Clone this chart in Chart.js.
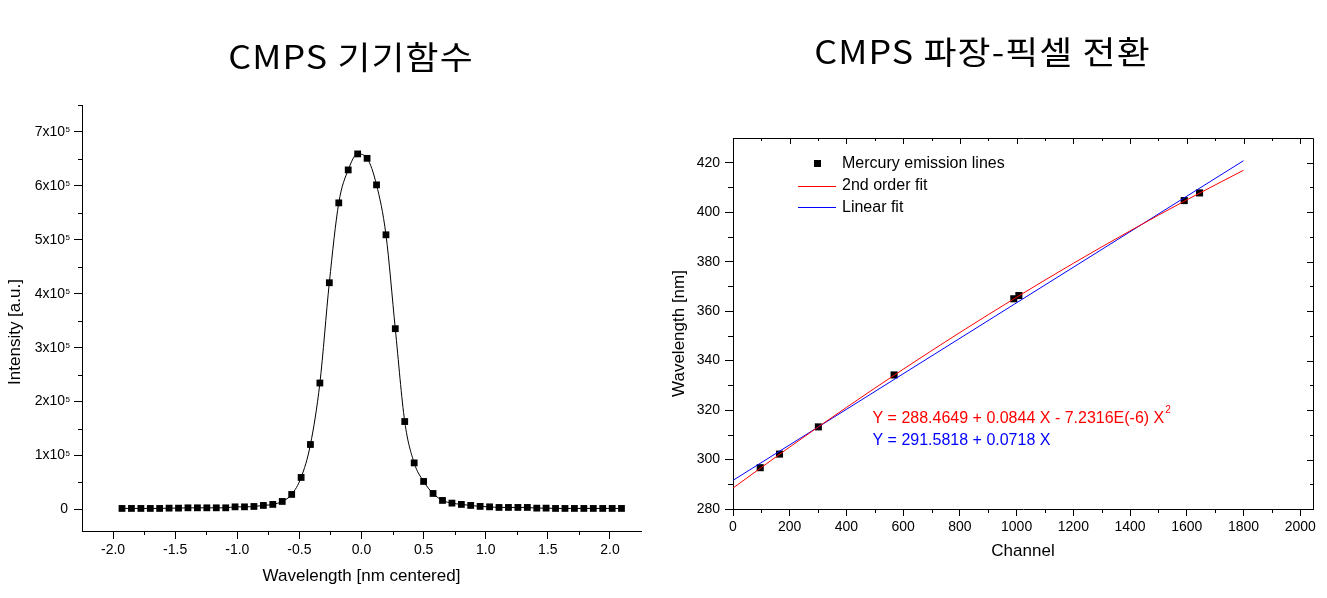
<!DOCTYPE html>
<html>
<head>
<meta charset="utf-8">
<script src="https://cdn.jsdelivr.net/npm/chart.js@4.4.1/dist/chart.umd.min.js"></script>
<style>
  html, body { margin: 0; padding: 0; background: #fff; overflow: hidden; }
  #page { position: relative; width: 1327px; height: 598px; }
  canvas { position: absolute; top: 0; }
  #profile { left: 0; }
  #calib { left: 663px; }
  .title { position: absolute; font-family: "Noto Sans CJK KR", sans-serif; font-size: 32px;
           line-height: 32px; letter-spacing: 1px; white-space: nowrap; color: #000;
           text-align: center; transform: scaleX(1.12); transform-origin: center; }
</style>
</head>
<body>
<div id="page">
  <canvas id="profile" width="663" height="598"></canvas>
  <canvas id="calib" width="664" height="598"></canvas>
  <div class="title" style="left:0;width:702px;top:38.5px">CMPS 기기함수</div>
  <div class="title" style="left:663px;width:639px;top:33.5px">CMPS 파장-픽셀 전환</div>
</div>
<script>
/* Data : instrument function */
var profileX = [-1.928, -1.852, -1.776, -1.700, -1.625, -1.549, -1.473, -1.397, -1.321, -1.245,
                -1.169, -1.093, -1.018, -0.942, -0.866, -0.790, -0.714, -0.638, -0.562, -0.486,
                -0.411, -0.335, -0.259, -0.183, -0.107, -0.031, 0.045, 0.121, 0.197, 0.272,
                0.348, 0.424, 0.500, 0.576, 0.652, 0.728, 0.804, 0.879, 0.955, 1.031,
                1.107, 1.183, 1.259, 1.335, 1.411, 1.486, 1.562, 1.638, 1.714, 1.790,
                1.866, 1.942, 2.018, 2.093];
var profileY = [1850, 1850, 1850, 1850, 1850, 2400, 2400, 3000, 3000, 3000,
                3000, 3000, 4800, 4800, 5500, 7400, 9300, 14800, 27800, 59300,
                120400, 234400, 420400, 568500, 629600, 659300, 651100, 601900, 509300, 335200,
                163000, 86300, 51900, 29600, 16700, 11700, 9300, 7400, 5600, 4800,
                3700, 3700, 3700, 3700, 2400, 2400, 1850, 1850, 1850, 1850,
                1850, 1850, 1850, 1850];
var profileXTicks = [-2.0, -1.5, -1.0, -0.5, 0.0, 0.5, 1.0, 1.5, 2.0];
var profileXMinor = [-1.75, -1.25, -0.75, -0.25, 0.25, 0.75, 1.25, 1.75];
var profileYTicks = [0, 100000, 200000, 300000, 400000, 500000, 600000, 700000];
var profileYMinor = [50000, 150000, 250000, 350000, 450000, 550000, 650000, 750000];

/* Data : wavelength - pixel calibration */
var hgChannel = [96, 164, 301, 568, 990, 1008, 1591, 1645];
var hgWavelength = [296.7, 302.2, 313.2, 334.2, 365.0, 366.3, 404.7, 407.8];
var quadChannel = [0, 200, 400, 600, 800, 1000, 1200, 1400, 1600, 1800];
var quadWavelength = [288.46, 305.06, 321.07, 336.50, 351.36, 365.63, 379.33, 392.45, 404.99, 416.95];
var linChannel = [0, 1800];
var linWavelength = [291.58, 420.82];
var calibXTicks = [0, 200, 400, 600, 800, 1000, 1200, 1400, 1600, 1800, 2000];
var calibXMinor = [100, 300, 500, 700, 900, 1100, 1300, 1500, 1700, 1900];
var calibYTicks = [280, 300, 320, 340, 360, 380, 400, 420];
var calibYMinor = [290, 310, 330, 350, 370, 390, 410];
var legendLabels = ['Mercury emission lines', '2nd order fit', 'Linear fit'];
var quadText = 'Y = 288.4649 + 0.0844 X - 7.2316E(-6) X';
var linText = 'Y = 291.5818 + 0.0718 X';

var FONT = 'Arial, "Liberation Sans", sans-serif';

function points(xs, ys) {
	return xs.map(function(x, i) { return { x: x, y: ys[i] }; });
}

function setTicks(values) {
	return function(scale) {
		scale.ticks = values.map(function(v) { return { value: v }; });
	};
}

function drawTicks(chart, axis, values, len, side) {
	var ctx = chart.ctx, a = chart.chartArea, s = chart.scales[axis];
	ctx.save();
	ctx.strokeStyle = '#000';
	ctx.lineWidth = 1;
	ctx.beginPath();
	values.forEach(function(v) {
		var p = Math.round(s.getPixelForValue(v)) + 0.5;
		if (side === 'bottom') { ctx.moveTo(p, a.bottom); ctx.lineTo(p, a.bottom + len); }
		if (side === 'top') { ctx.moveTo(p, a.top); ctx.lineTo(p, a.top + len); }
		if (side === 'left') { ctx.moveTo(a.left, p); ctx.lineTo(a.left - len, p); }
		if (side === 'right') { ctx.moveTo(a.right, p); ctx.lineTo(a.right - len, p); }
	});
	ctx.stroke();
	ctx.restore();
}

function drawYTitle(ctx, text, x, y) {
	ctx.save();
	ctx.translate(x, y);
	ctx.rotate(-Math.PI / 2);
	ctx.font = '17px ' + FONT;
	ctx.fillStyle = '#000';
	ctx.textAlign = 'center';
	ctx.textBaseline = 'middle';
	ctx.fillText(text, 0, 0);
	ctx.restore();
}

function axisScale(min, max, ticks, tickLength, padding, fitSize, horizontal, title, titlePad) {
	var opts = {
		type: 'linear',
		min: min,
		max: max,
		afterBuildTicks: setTicks(ticks),
		grid: { drawOnChartArea: false, drawTicks: true, tickLength: tickLength, color: '#000' },
		border: { display: true, color: '#000', width: 1 },
		ticks: { color: '#000', padding: padding, maxRotation: 0, font: { family: FONT, size: 14 } },
		afterFit: function(scale) {
			if (horizontal) { scale.height = fitSize; } else { scale.width = fitSize; }
		}
	};
	if (title) {
		opts.title = { display: true, text: title, color: '#000', font: { family: FONT, size: 17 },
			padding: { top: 0, bottom: titlePad } };
	}
	return opts;
}

/* Instrument function */

var profileDecor = {
	id: 'profileDecor',
	afterDraw: function(chart) {
		var ctx = chart.ctx, a = chart.chartArea, s = chart.scales.y;
		drawTicks(chart, 'x', profileXMinor, 4, 'bottom');
		drawTicks(chart, 'y', profileYMinor, 4, 'left');
		ctx.save();
		ctx.fillStyle = '#000';
		profileYTicks.forEach(function(v) {
			var py = s.getPixelForValue(v);
			var xr = a.left - 12;
			if (v === 0) {
				ctx.font = '14px ' + FONT;
				ctx.textAlign = 'right';
				ctx.textBaseline = 'middle';
				ctx.fillText('0', xr - 2, py);
			} else {
				ctx.font = '8px ' + FONT;
				ctx.textAlign = 'right';
				ctx.textBaseline = 'alphabetic';
				ctx.fillText('5', xr, py + 0.5);
				var w = ctx.measureText('5').width;
				ctx.font = '14px ' + FONT;
				ctx.textBaseline = 'middle';
				ctx.fillText((v / 100000) + 'x10', xr - w - 0.5, py);
			}
		});
		ctx.restore();
		drawYTitle(ctx, 'Intensity [a.u.]', 15, 332);
	}
};

var profileOpts = {
	responsive: false,
	animation: false,
	layout: { padding: { left: 0, top: 105, right: 22, bottom: 0 } },
	plugins: { legend: { display: false }, tooltip: { enabled: false } },
	scales: {
		x: axisScale(-2.25, 2.25, profileXTicks, 8, 3, 67, true, 'Wavelength [nm centered]', 11),
		y: axisScale(-40000, 750000, profileYTicks, 8, 3, 82, false)
	}
};
profileOpts.scales.x.ticks.callback = function(v) { return v.toFixed(1); };
profileOpts.scales.y.ticks.display = false;

var ctxprofile = document.getElementById('profile').getContext('2d');
var profileChart = new Chart(ctxprofile, {
	type: 'scatter',
	data: {
		datasets: [{
			data: points(profileX, profileY),
			showLine: true,
			borderColor: '#000',
			borderWidth: 1,
			cubicInterpolationMode: 'monotone',
			pointStyle: 'rect',
			pointRadius: 4.8,
			pointBorderWidth: 0,
			pointBackgroundColor: '#000'
		}]
	},
	options: profileOpts,
	plugins: [profileDecor]
});

/* Wavelength - pixel calibration */

var calibDecor = {
	id: 'calibDecor',
	afterDraw: function(chart) {
		var ctx = chart.ctx, a = chart.chartArea;
		ctx.save();
		ctx.strokeStyle = '#000';
		ctx.lineWidth = 1;
		ctx.beginPath();
		ctx.moveTo(Math.round(a.left), Math.round(a.top) + 0.5);
		ctx.lineTo(Math.round(a.right) + 0.5, Math.round(a.top) + 0.5);
		ctx.lineTo(Math.round(a.right) + 0.5, Math.round(a.bottom));
		ctx.stroke();
		ctx.restore();
		drawTicks(chart, 'x', calibXMinor, 4, 'bottom');
		drawTicks(chart, 'y', calibYMinor, 5, 'left');
		drawTicks(chart, 'x', calibXTicks.slice(1), 6, 'top');
		drawTicks(chart, 'x', calibXMinor, 3, 'top');
		drawTicks(chart, 'y', calibYTicks.slice(1), 6, 'right');
		drawTicks(chart, 'y', calibYMinor, 3, 'right');

		// legend
		var lx = Math.round(a.left), ty = Math.round(a.top);
		ctx.save();
		ctx.fillStyle = '#000';
		ctx.fillRect(lx + 81, ty + 22, 7, 7);
		ctx.lineWidth = 1;
		ctx.strokeStyle = '#ff0000';
		ctx.beginPath(); ctx.moveTo(lx + 65, ty + 48.5); ctx.lineTo(lx + 103, ty + 48.5); ctx.stroke();
		ctx.strokeStyle = '#0000ff';
		ctx.beginPath(); ctx.moveTo(lx + 65, ty + 69.5); ctx.lineTo(lx + 103, ty + 69.5); ctx.stroke();
		ctx.font = '16px ' + FONT;
		ctx.textAlign = 'left';
		ctx.textBaseline = 'middle';
		ctx.fillText(legendLabels[0], lx + 109, ty + 26);
		ctx.fillText(legendLabels[1], lx + 109, ty + 47.7);
		ctx.fillText(legendLabels[2], lx + 109, ty + 69.4);

		// fit equations
		var ex = lx + 139.5;
		ctx.fillStyle = '#ff0000';
		ctx.textBaseline = 'alphabetic';
		ctx.fillText(quadText, ex, 423);
		var w = ctx.measureText(quadText).width;
		ctx.font = '10px ' + FONT;
		ctx.fillText('2', ex + w + 1, 413);
		ctx.font = '16px ' + FONT;
		ctx.fillStyle = '#0000ff';
		ctx.fillText(linText, ex, 444.5);
		ctx.restore();

		drawYTitle(ctx, 'Wavelength [nm]', 16, 333.5);
	}
};

var calibOpts = {
	responsive: false,
	animation: false,
	layout: { padding: { left: 0, top: 138, right: 14, bottom: 0 } },
	plugins: { legend: { display: false }, tooltip: { enabled: false } },
	scales: {
		x: axisScale(0, 2045, calibXTicks, 7, 3, 89, true, 'Channel', 36),
		y: axisScale(280, 430, calibYTicks, 8, 5, 70, false)
	}
};
calibOpts.scales.x.ticks.callback = function(v) { return String(v); };
calibOpts.scales.y.ticks.callback = function(v) { return String(v); };

var ctxcalib = document.getElementById('calib').getContext('2d');
var calibChart = new Chart(ctxcalib, {
	type: 'scatter',
	data: {
		datasets: [{
			data: points(quadChannel, quadWavelength),
			showLine: true,
			borderColor: '#ff0000',
			borderWidth: 1,
			cubicInterpolationMode: 'monotone',
			pointRadius: 0
		}, {
			data: points(linChannel, linWavelength),
			showLine: true,
			borderColor: '#0000ff',
			borderWidth: 1,
			pointRadius: 0
		}, {
			data: points(hgChannel, hgWavelength),
			showLine: false,
			pointStyle: 'rect',
			pointRadius: 5,
			pointBorderWidth: 0,
			pointBackgroundColor: '#000'
		}]
	},
	options: calibOpts,
	plugins: [calibDecor]
});
</script>
</body>
</html>
